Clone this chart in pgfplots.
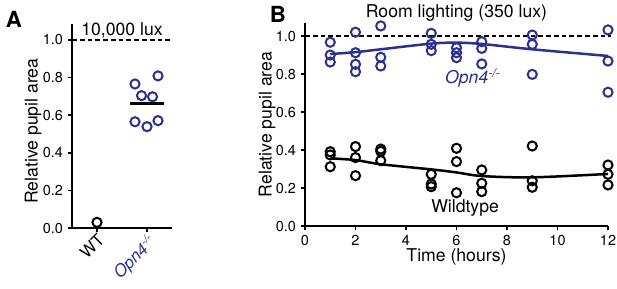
\documentclass[border=0pt]{standalone}
\usepackage{fontspec}
\setmainfont{TeX Gyre Heros}
\usepackage{pgfplots}
\pgfplotsset{compat=1.18}
\definecolor{opnblue}{RGB}{43,48,145}
\pgfplotsset{
 mystyle/.style={
  scale only axis,
  axis x line*=bottom, axis y line*=left,
  axis line style={line width=1.4pt,-},
  tick align=outside, major tick length=3pt,
  tick style={line width=1.2pt, black},
  ymin=0, ytick={0,0.2,0.4,0.6,0.8,1},
  yticklabel style={/pgf/number format/fixed,/pgf/number format/fixed zerofill,/pgf/number format/precision=1},
  /pgf/number format/assume math mode=true,
  tick label style={font=\fontsize{10.4}{12}\selectfont},
  label style={font=\fontsize{12.7}{14}\selectfont},
  clip=false,
 },
 dots/.style={only marks, mark=o, mark size=3.3pt, mark options={line width=1.45pt}},
}
\begin{document}
\begin{tikzpicture}
\useasboundingbox (0,0) rectangle (444.24pt,207.36pt);
% Panel A
\begin{axis}[mystyle,
  at={(69.84pt,43.2pt)}, anchor=origin,
  width=72pt, height=146.88pt,
  xmin=-0.5, xmax=1.5, ymax=1.085,
  xtick={0,1}, xticklabels={WT,{\textcolor{opnblue}{\textit{Opn4}\textsuperscript{\textit{-/-}}}}},
  xticklabel style={rotate=45, anchor=north east, font=\fontsize{12}{13}\selectfont, xshift=1.5pt, yshift=1.5pt, inner sep=1.5pt},
  ylabel={Relative pupil area},
  ylabel style={at={(axis description cs:-0.39,0.475)}, anchor=center},
]
\addplot[black, dash pattern=on 3.4pt off 2.2pt, line width=1.45pt] coordinates {(-0.5,1) (1.5,1)};
\addplot[dots, black] coordinates {(0,0.03)};
\addplot[dots, opnblue] coordinates {
(0.76,0.766) (1.22,0.809) (0.89,0.704) (1.11,0.698) (0.76,0.565) (1,0.539) (1.22,0.571)};
\addplot[black, line width=2pt] coordinates {(0.66,0.663) (1.34,0.663)};
\node[anchor=base, font=\fontsize{12.7}{14}\selectfont] at (axis cs:0.5,1.024) {10,000 lux};
\end{axis}
% Panel B
\begin{axis}[mystyle,
  at={(219.6pt,44.64pt)}, anchor=origin,
  width=218.16pt, height=146.16pt,
  xmin=0, xmax=12, ymax=1.0684,
  xtick={0,2,4,6,8,10,12},
  xlabel={Time (hours)},
  xlabel style={at={(axis description cs:0.5,-0.151)}, anchor=center},
  ylabel={Relative pupil area},
  ylabel style={at={(axis description cs:-0.125,0.5)}, anchor=center},
]
\addplot[black, dash pattern=on 3.4pt off 2.2pt, line width=1.45pt] coordinates {(0,1) (12.12,1)};
\addplot[dots, opnblue] coordinates {
(1,0.967) (1,0.900) (1,0.863)
(2,1.020) (2,0.912) (2,0.851) (2,0.812)
(3,1.053) (3,0.888) (3,0.842)
(5,1.014) (5,0.956) (5,0.923)
(6,0.938) (6,0.912) (6,0.886)
(7,0.970) (7,0.935) (7,0.853)
(9,1.005) (9,0.956) (9,0.798)
(12,1.032) (12,0.868) (12,0.704)};
\addplot[opnblue, line width=1.8pt, smooth] coordinates {
(1,0.905) (2,0.915) (3,0.93) (5,0.96) (6,0.965) (7,0.958) (9,0.93) (12,0.895)};
\addplot[dots, black] coordinates {
(1,0.391) (1,0.374) (1,0.312)
(2,0.418) (2,0.360) (2,0.265)
(3,0.405) (3,0.393) (3,0.344)
(5,0.272) (5,0.221) (5,0.207)
(6,0.409) (6,0.339) (6,0.175)
(7,0.295) (7,0.225) (7,0.181)
(9,0.421) (9,0.238) (9,0.204)
(12,0.321) (12,0.272) (12,0.216)};
\addplot[black, line width=1.8pt, smooth] coordinates {
(1,0.356) (2,0.347) (3,0.325) (5,0.298) (6,0.282) (7,0.263) (9,0.256) (12,0.274)};
\node[anchor=base, font=\fontsize{12.7}{14}\selectfont] at (axis cs:6,1.095) {Room lighting (350 lux)};
\node[anchor=center, font=\fontsize{12.7}{14}\selectfont] at (axis cs:6.34,0.095) {Wildtype};
\node[anchor=center, font=\fontsize{12.7}{14}\selectfont, text=opnblue] at (axis cs:6.65,0.78) {\textit{Opn4}\textsuperscript{\textit{-/-}}};
\end{axis}
\node[anchor=base west, font=\fontsize{16}{18}\selectfont\bfseries] at (0.72pt,187.9pt) {A};
\node[anchor=base west, font=\fontsize{16}{18}\selectfont\bfseries] at (190.8pt,191.5pt) {B};
\end{tikzpicture}
\end{document}
